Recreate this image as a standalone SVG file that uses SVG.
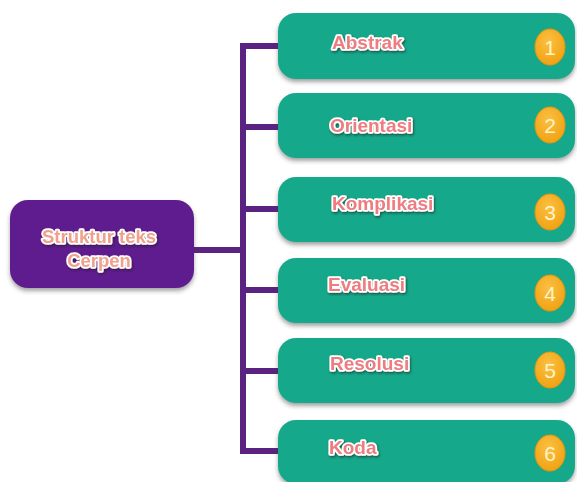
<svg xmlns="http://www.w3.org/2000/svg" width="577" height="482" viewBox="0 0 577 482">
<defs>
<style>
.box{fill:#17a88a;filter:url(#bs);}
.lbl{font-family:"Liberation Sans",Arial,sans-serif;font-weight:bold;font-size:19px;fill:#ee7c80;stroke:#ffffff;stroke-width:3.6px;stroke-linejoin:round;paint-order:stroke;filter:url(#ts);}
.num{font-family:"Liberation Sans",Arial,sans-serif;font-size:21px;fill:#fff3c8;text-anchor:middle;}
.badge{fill:url(#og);stroke:#e8960e;stroke-width:1;}
.conn{stroke:#5a2381;stroke-width:6;fill:none;stroke-linecap:square;}
</style>
<filter id="bs" x="-10%" y="-20%" width="120%" height="150%">
<feDropShadow dx="0" dy="3" stdDeviation="2" flood-color="#333" flood-opacity="0.45"/>
</filter>
<filter id="ts" x="-10%" y="-30%" width="120%" height="160%">
<feDropShadow dx="1" dy="1.5" stdDeviation="1" flood-color="#222" flood-opacity="0.6"/>
</filter>
<radialGradient id="og" cx="0.45" cy="0.35" r="0.7">
<stop offset="0" stop-color="#fbc042"/>
<stop offset="1" stop-color="#f0a010"/>
</radialGradient>
</defs>
<rect width="577" height="482" fill="#ffffff"/>
<g id="connectors">
<line class="conn" x1="194" y1="250" x2="243" y2="250"/>
<line class="conn" x1="243" y1="46" x2="243" y2="451"/>
<line class="conn" x1="243" y1="46" x2="280" y2="46"/>
<line class="conn" x1="243" y1="127" x2="280" y2="127"/>
<line class="conn" x1="243" y1="209" x2="280" y2="209"/>
<line class="conn" x1="243" y1="290" x2="280" y2="290"/>
<line class="conn" x1="243" y1="371" x2="280" y2="371"/>
<line class="conn" x1="243" y1="451" x2="280" y2="451"/>
</g>
<g id="center">
<rect x="10" y="200" width="184" height="88" rx="18" fill="#5e1c8e" filter="url(#bs)"/>
<text class="lbl" x="99" y="243" text-anchor="middle" style="fill:#f2a08e;font-size:18.5px">Struktur teks</text>
<text class="lbl" x="99" y="267" text-anchor="middle" style="fill:#f2a08e;font-size:18.5px">Cerpen</text>
</g>
<g id="n1">
<rect class="box" x="278" y="13" width="297" height="66" rx="18"/>
<text class="lbl" x="332" y="49">Abstrak</text>
<ellipse class="badge" cx="550" cy="47" rx="15" ry="18"/>
<text class="num" x="550" y="55">1</text>
</g>
<g id="n2">
<rect class="box" x="278" y="93" width="297" height="65" rx="18"/>
<text class="lbl" x="330" y="132">Orientasi</text>
<ellipse class="badge" cx="550" cy="125" rx="15" ry="18"/>
<text class="num" x="550" y="133">2</text>
</g>
<g id="n3">
<rect class="box" x="278" y="177" width="297" height="65" rx="18"/>
<text class="lbl" x="332" y="210">Komplikasi</text>
<ellipse class="badge" cx="550" cy="212" rx="15" ry="18"/>
<text class="num" x="550" y="220">3</text>
</g>
<g id="n4">
<rect class="box" x="278" y="258" width="297" height="65" rx="18"/>
<text class="lbl" x="328" y="291">Evaluasi</text>
<ellipse class="badge" cx="550" cy="293" rx="15" ry="18"/>
<text class="num" x="550" y="301">4</text>
</g>
<g id="n5">
<rect class="box" x="278" y="338" width="297" height="65" rx="18"/>
<text class="lbl" x="330" y="370">Resolusi</text>
<ellipse class="badge" cx="550" cy="370" rx="15" ry="18"/>
<text class="num" x="550" y="378">5</text>
</g>
<g id="n6">
<rect class="box" x="278" y="420" width="297" height="64" rx="18"/>
<text class="lbl" x="329" y="454">Koda</text>
<ellipse class="badge" cx="550" cy="453" rx="15" ry="18"/>
<text class="num" x="550" y="461">6</text>
</g>
</svg>
